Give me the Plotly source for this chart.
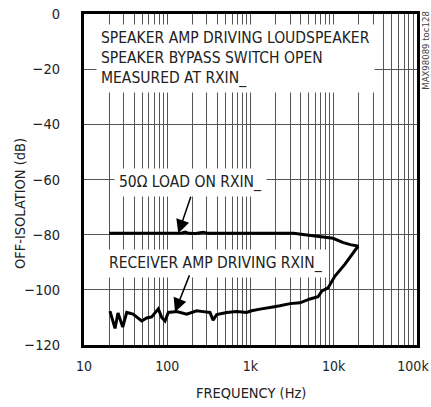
import plotly.graph_objects as go

# 50 ohm load on RXIN_
load_freq = [20, 40, 80, 120, 150, 165, 180, 220, 250, 270, 300, 500, 1000, 2000,
             3300, 4500, 6200, 8000, 9800, 12800, 15800, 20000]
load_db = [-79.5, -79.5, -79.5, -79.5, -79.4, -79.1, -79.5, -79.6, -79.2, -79.1, -79.5,
           -79.5, -79.5, -79.5, -79.5, -80.0, -80.6, -81.0, -81.3, -82.8, -83.6, -84.2]

# receiver amp driving RXIN_
rx_freq = [20.5, 23.6, 25.6, 29.2, 32.6, 38.8, 49.3, 56.6, 65, 78.1, 85.8, 94, 103, 130,
           171, 226, 269, 326, 355, 393, 518, 683, 900, 1030, 1300, 1565, 1862, 2260,
           2455, 2980, 3935, 5190, 6470, 7230, 8530, 10350, 13650, 19550]
rx_db = [-107.7, -114, -108.4, -113.5, -108.2, -108.8, -111.3, -110.2, -109.8, -106.9,
         -110, -111.3, -108.2, -107.9, -108.8, -107.6, -107.9, -108.2, -111, -109,
         -108.2, -107.9, -108.2, -107.6, -107, -106.5, -106.2, -105.8, -105.5, -105.0,
         -104.7, -103.3, -102.5, -100.4, -99.3, -95, -90.7, -84.2]

x_ticks = [10, 100, 1000, 10000, 100000]
# trailing no-break spaces keep the last label inside the page edge
x_labels = ["10", "100", "1k", "10k", "100k\u00a0\u00a0"]
y_ticks = [0, -20, -40, -60, -80, -100, -120]
minor_x = [m * d for d in [10, 100, 1000, 10000] for m in range(2, 10)]

FONT = "DejaVu Sans Condensed, sans-serif"

fig = go.Figure()
fig.add_trace(go.Scatter(x=load_freq, y=load_db, mode="lines",
                         line=dict(color="black", width=3)))
fig.add_trace(go.Scatter(x=rx_freq, y=rx_db, mode="lines",
                         line=dict(color="black", width=3)))

fig.update_xaxes(type="log", range=[1, 5], tickvals=x_ticks, ticktext=x_labels,
                 showgrid=True, gridcolor="#555", gridwidth=1, ticks="",
                 showline=True, mirror=True, linecolor="black", linewidth=3,
                 minor=dict(tickvals=minor_x, showgrid=True, gridcolor="#555", gridwidth=1),
                 zeroline=False, ticklabelstandoff=6, automargin=False,
                 ticklabeloverflow="allow", tickfont=dict(size=14))
fig.update_yaxes(range=[-120, 0], tickvals=y_ticks, showgrid=True, gridcolor="#555",
                 gridwidth=1, ticks="", showline=True, mirror=True, linecolor="black",
                 linewidth=3, zeroline=False, ticklabelstandoff=18, automargin=False,
                 ticklabeloverflow="allow", tickfont=dict(size=14.5))

fig.add_annotation(xref="paper", yref="paper", x=-0.192, y=0.426, text="OFF-ISOLATION (dB)",
                   textangle=-90, showarrow=False, xanchor="center", yanchor="middle",
                   font=dict(size=14.5))
fig.add_annotation(xref="paper", yref="paper", x=0.5, y=-0.145, text="FREQUENCY (Hz)",
                   showarrow=False, xanchor="center", yanchor="middle", font=dict(size=14.5))

fig.add_annotation(xref="paper", yref="paper", x=0.036, y=0.97, xanchor="left", yanchor="top",
                   text="SPEAKER AMP DRIVING LOUDSPEAKER<br>SPEAKER BYPASS SWITCH OPEN<br>MEASURED AT RXIN_",
                   align="left", showarrow=False, bgcolor="white", borderpad=4,
                   font=dict(size=15.5))
fig.add_annotation(x=2.285, y=-61, text="50Ω LOAD ON RXIN_", showarrow=False,
                   bgcolor="white", borderpad=4, font=dict(size=15.5))
fig.add_annotation(x=2.58, y=-90.5, text="RECEIVER AMP DRIVING RXIN_", showarrow=False,
                   bgcolor="white", borderpad=4, font=dict(size=15.5))
fig.add_annotation(x=2.133, y=-79.5, text="", showarrow=True, ax=13, ay=-38,
                   arrowhead=2, arrowsize=1.8, arrowwidth=1.5, arrowcolor="black")
fig.add_annotation(x=2.093, y=-108, text="", showarrow=True, ax=15, ay=-38,
                   arrowhead=2, arrowsize=1.8, arrowwidth=1.5, arrowcolor="black")
fig.add_annotation(xref="paper", yref="paper", x=1.025, y=0.89, text="MAX98089 toc128",
                   textangle=-90, showarrow=False, xanchor="center", yanchor="middle",
                   font=dict(size=9.5, color="#444"))

fig.update_layout(width=431, height=407, margin=dict(l=84, r=14, t=14, b=62),
                  paper_bgcolor="white", plot_bgcolor="white", showlegend=False,
                  font=dict(family=FONT, size=15, color="#222"))
# drop the default 8px page margin so the figure fills the window
fig.write_html("out.html", config={"displayModeBar": False},
               post_script="document.body.style.margin='0';")
